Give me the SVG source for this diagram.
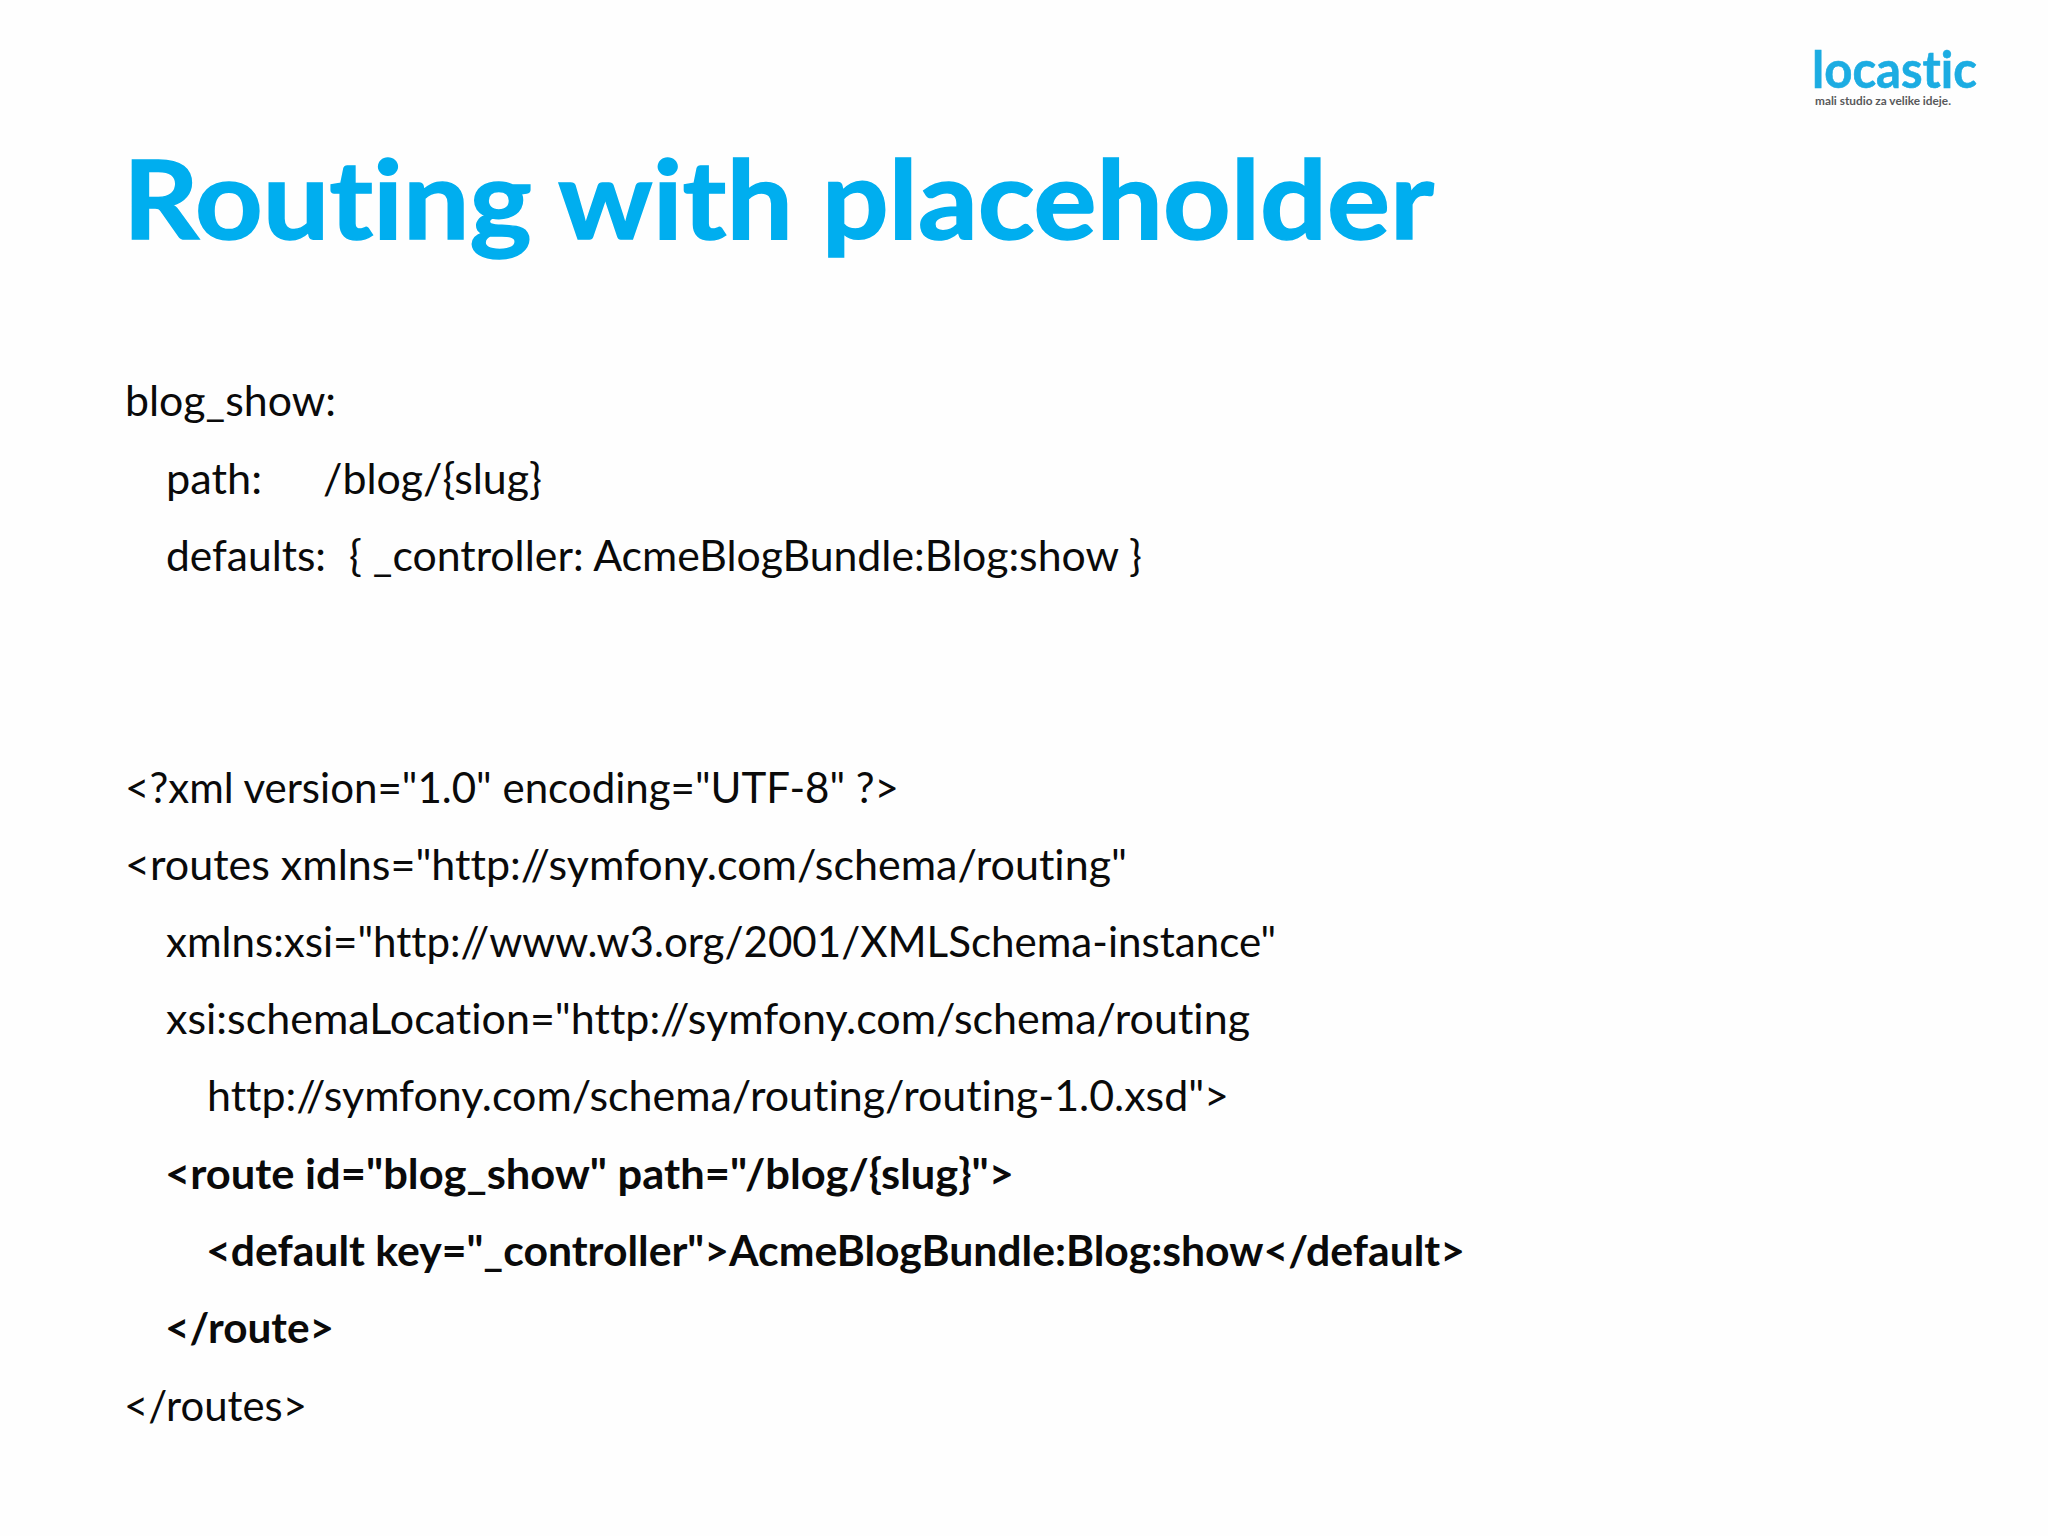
<svg xmlns="http://www.w3.org/2000/svg" width="2048" height="1536" viewBox="0 0 2048 1536">
<style>
text{font-family:"Lato","Carlito","Liberation Sans",sans-serif;white-space:pre;font-variant-ligatures:none}
.b{font-size:42px;fill:#0a0a0a}
.s{font-weight:700}
</style>
<rect width="2048" height="1536" fill="#fefefe"/>
<g id="logo">
<text x="1812" y="88" font-size="51" font-weight="700" fill="#1cace2" stroke="#1cace2" stroke-width="0.6" textLength="165" lengthAdjust="spacingAndGlyphs">locastic</text>
<text x="1815" y="105" font-size="11.5" font-weight="700" fill="#58595b" textLength="136" lengthAdjust="spacingAndGlyphs">mali studio za velike ideje.</text>
</g>
<g id="title">
<text x="123" y="239" font-size="110" font-weight="700" fill="#00aeef" stroke="#00aeef" stroke-width="1.5" textLength="1311" lengthAdjust="spacingAndGlyphs">Routing with placeholder</text>
</g>
<g id="yaml">
<text class="b" x="125" y="416" textLength="211" lengthAdjust="spacingAndGlyphs">blog_show:</text>
<text class="b" x="166" y="494" textLength="96" lengthAdjust="spacingAndGlyphs">path:</text>
<text class="b" x="323" y="494" textLength="219" lengthAdjust="spacingAndGlyphs">/blog/{slug}</text>
<text class="b" x="166" y="571" textLength="160" lengthAdjust="spacingAndGlyphs">defaults:</text>
<text class="b" x="349" y="571" textLength="793" lengthAdjust="spacingAndGlyphs">{ _controller: AcmeBlogBundle:Blog:show }</text>
</g>
<g id="xml">
<text class="b" x="125" y="803" textLength="774" lengthAdjust="spacingAndGlyphs">&lt;?xml version="1.0" encoding="UTF-8" ?&gt;</text>
<text class="b" x="125" y="880" textLength="1002" lengthAdjust="spacingAndGlyphs">&lt;routes xmlns="http://symfony.com/schema/routing"</text>
<text class="b" x="166" y="957" textLength="1110" lengthAdjust="spacingAndGlyphs">xmlns:xsi="http://www.w3.org/2001/XMLSchema-instance"</text>
<text class="b" x="166" y="1034" textLength="1084" lengthAdjust="spacingAndGlyphs">xsi:schemaLocation="http://symfony.com/schema/routing</text>
<text class="b" x="207" y="1111" textLength="1022" lengthAdjust="spacingAndGlyphs">http://symfony.com/schema/routing/routing-1.0.xsd"&gt;</text>
<text class="b s" x="165" y="1189" textLength="849" lengthAdjust="spacingAndGlyphs">&lt;route id="blog_show" path="/blog/{slug}"&gt;</text>
<text class="b s" x="206" y="1266" textLength="1259" lengthAdjust="spacingAndGlyphs">&lt;default key="_controller"&gt;AcmeBlogBundle:Blog:show&lt;/default&gt;</text>
<text class="b s" x="165" y="1343" textLength="169" lengthAdjust="spacingAndGlyphs">&lt;/route&gt;</text>
<text class="b" x="124" y="1421" textLength="183" lengthAdjust="spacingAndGlyphs">&lt;/routes&gt;</text>
</g>
</svg>
